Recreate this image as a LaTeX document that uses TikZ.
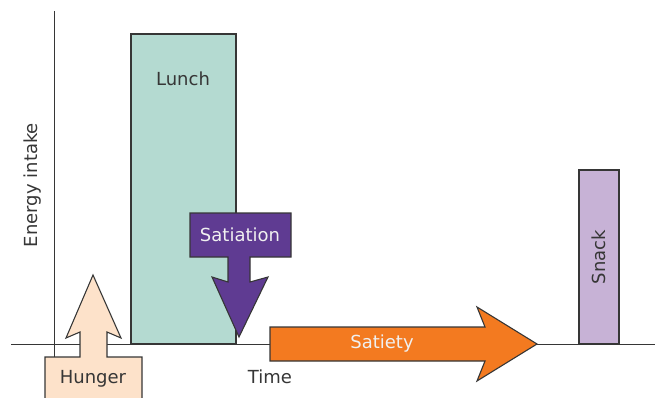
\documentclass[tikz,border=0pt]{standalone}
\usepackage{fontspec}
\setmainfont{DejaVu Sans}
\definecolor{lunchfill}{HTML}{B4DAD1}
\definecolor{snackfill}{HTML}{C7B2D6}
\definecolor{satiationfill}{HTML}{5F3B92}
\definecolor{satietyfill}{HTML}{F37A20}
\definecolor{hungerfill}{HTML}{FDE2CA}
\definecolor{ink}{HTML}{363636}
\tikzset{
  axisline/.style={draw=ink, line width=1pt},
  shapeline/.style={draw=ink, line width=1.1pt, line join=miter},
  lbl/.style={font=\fontsize{18}{21}\selectfont, text=ink, inner sep=0pt},
  lbllight/.style={lbl, text=white!94!black},
}
\begin{document}
\begin{tikzpicture}[x=1pt,y=-1pt]
\useasboundingbox (0,0) rectangle (655,398);
\begin{scope}
\clip (0,0) rectangle (655,398);
% axes
\coordinate (yax-top) at (54,11);
\coordinate (yax-bot) at (54,398);
\coordinate (xax-left) at (11,344);
\coordinate (xax-right) at (655,344);
\draw[axisline] (yax-top) -- (yax-bot);
\draw[axisline] (xax-left) -- (xax-right);
% meals
\draw[shapeline, fill=lunchfill] (131,344) rectangle (236,34);
\draw[shapeline, fill=snackfill] (579,344) rectangle (619,170);
% satiation: box with a downward arrow
\draw[shapeline, fill=satiationfill]
  (190,213) -- (291,213) -- (291,257) -- (250,257) -- (250,282) -- (268,277)
  -- (239,337) -- (212,277) -- (228,282) -- (228,257) -- (190,257) -- cycle;
% satiety: long arrow along the time axis
\draw[shapeline, fill=satietyfill]
  (270,327) -- (485,327) -- (477,307) -- (537,344) -- (477,381) -- (485,361)
  -- (270,361) -- cycle;
% hunger: box with an upward arrow
\draw[shapeline, fill=hungerfill]
  (45,405) -- (45,357) -- (80,357) -- (80,332) -- (66,338) -- (93,275)
  -- (121,338) -- (107,332) -- (107,357) -- (142,357) -- (142,405) -- cycle;
\end{scope}
% labels
\node[lbl] (lunch) at (183,79) {Lunch};
\node[lbl, rotate=90] (snack) at (599,257) {Snack};
\node[lbl, rotate=90] (energy) at (33,185) {Energy intake};
\node[lbl] (time) at (270,377) {Time};
\node[lbl] (hunger) at (93,379) {Hunger};
\node[lbllight] (satiation) at (240,235) {Satiation};
\node[lbllight] (satiety) at (382,344) {Satiety};
\end{tikzpicture}
\end{document}
